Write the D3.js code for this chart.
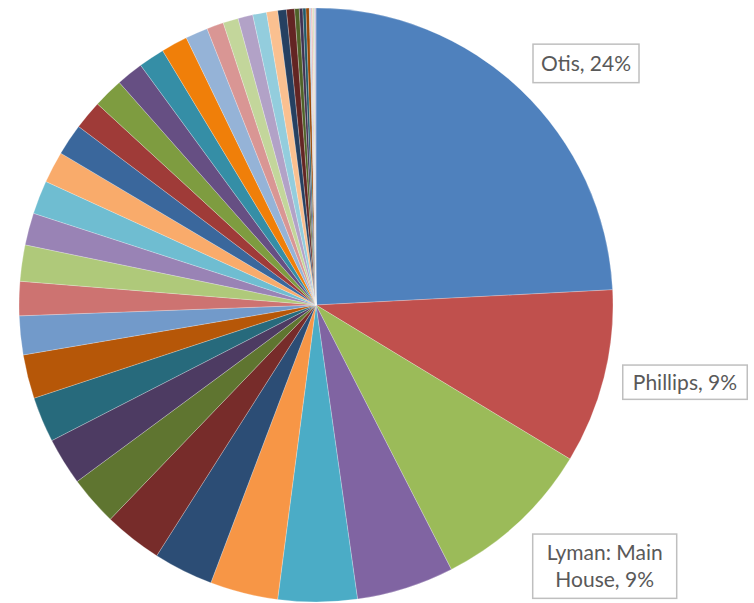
<!DOCTYPE html>
<html>
<head>
<meta charset="utf-8">
<script src="https://cdn.jsdelivr.net/npm/d3@7"></script>
<style>
  html, body { margin: 0; padding: 0; background: #fff; }
  svg { display: block; }
</style>
</head>
<body>
<svg id="chart" width="754" height="603"></svg>
<script>
// ---- data ----
const categories = [
  "Otis", "Phillips", "Lyman: Main House",
  "Site 4", "Site 5", "Site 6", "Site 7", "Site 8", "Site 9", "Site 10",
  "Site 11", "Site 12", "Site 13", "Site 14", "Site 15", "Site 16", "Site 17",
  "Site 18", "Site 19", "Site 20", "Site 21", "Site 22", "Site 23", "Site 24",
  "Site 25", "Site 26", "Site 27", "Site 28", "Site 29", "Site 30", "Site 31",
  "Site 32", "Site 33", "Site 34", "Site 35", "Site 36", "Site 37", "Site 38",
  "Site 39", "Site 40"
];
const values = [
  24.2, 9.5, 8.8,
  5.3, 4.3, 3.7, 3.25, 3.17, 2.7, 2.58,
  2.47, 2.39, 2.11, 1.86, 1.97, 1.75, 1.83,
  1.72, 1.72, 1.58, 1.64, 1.47, 1.42, 1.44,
  1.22, 0.92, 0.83, 0.81, 0.75, 0.61, 0.47,
  0.44, 0.25, 0.19, 0.17, 0.18, 0.09, 0.09,
  0.09, 0.09
];
const colors = [
  "#4F81BD", "#C0504D", "#9BBB59", "#8064A2", "#4BACC6", "#F79646",
  "#2C4D75", "#772C2A", "#5F7530", "#4D3B62", "#276A7C", "#B65708",
  "#729ACA", "#CD7371", "#AFC97A", "#9983B5", "#6FBDD1", "#F9AB6B",
  "#3A679C", "#9F3B38", "#7E9C40", "#664F83", "#358EA6", "#F07F09",
  "#95B3D7", "#D99694", "#C3D69B", "#B2A2C7", "#93CDDD", "#FAC090",
  "#254061", "#632523", "#4F6228", "#403152", "#215968", "#984807",
  "#B9CDE5", "#E6B9B8", "#D7E4BD", "#CCC1DA"
];
const labelText = [["Otis, 24%"], ["Phillips, 9%"], ["Lyman: Main", "House, 9%"]];

// ---- layout ----
const cx = 316, cy = 305, R = 297;
const labelLayout = [
  { x: 586, y: 63.4, w: 106, h: 38.5 },
  { x: 685, y: 382.2, w: 124.5, h: 34.3 },
  { x: 604.7, y: 566.2, w: 144, h: 64.3 }
];

const svg = d3.select("#chart");
const g = svg.append("g").attr("transform", `translate(${cx},${cy})`);

const data = categories.map((c, i) => ({ name: c, value: values[i], color: colors[i] }));
const pie = d3.pie().value(d => d.value).sort(null);
const arc = d3.arc().innerRadius(0).outerRadius(R);

g.selectAll("path")
  .data(pie(data))
  .join("path")
  .attr("d", arc)
  .attr("fill", d => d.data.color)
  .attr("stroke", "#ffffff")
  .attr("stroke-width", 0.4)
  .attr("stroke-opacity", 0.6);

const fontSize = 21, lineH = 27;
labelText.forEach((lines, i) => {
  const L = labelLayout[i];
  const lg = svg.append("g");
  lg.append("rect")
    .attr("x", L.x - L.w / 2).attr("y", L.y - L.h / 2)
    .attr("width", L.w).attr("height", L.h)
    .attr("fill", "#ffffff")
    .attr("stroke", "#BFBFBF")
    .attr("stroke-width", 1.5);
  const n = lines.length;
  lines.forEach((t, k) => {
    lg.append("text")
      .attr("x", L.x)
      .attr("y", L.y + (k - (n - 1) / 2) * lineH)
      .attr("dy", "0.36em")
      .attr("text-anchor", "middle")
      .attr("font-family", "Lato, 'Open Sans', sans-serif")
      .attr("font-size", fontSize)
      .attr("fill", "#595959")
      .text(t);
  });
});
</script>
</body>
</html>
